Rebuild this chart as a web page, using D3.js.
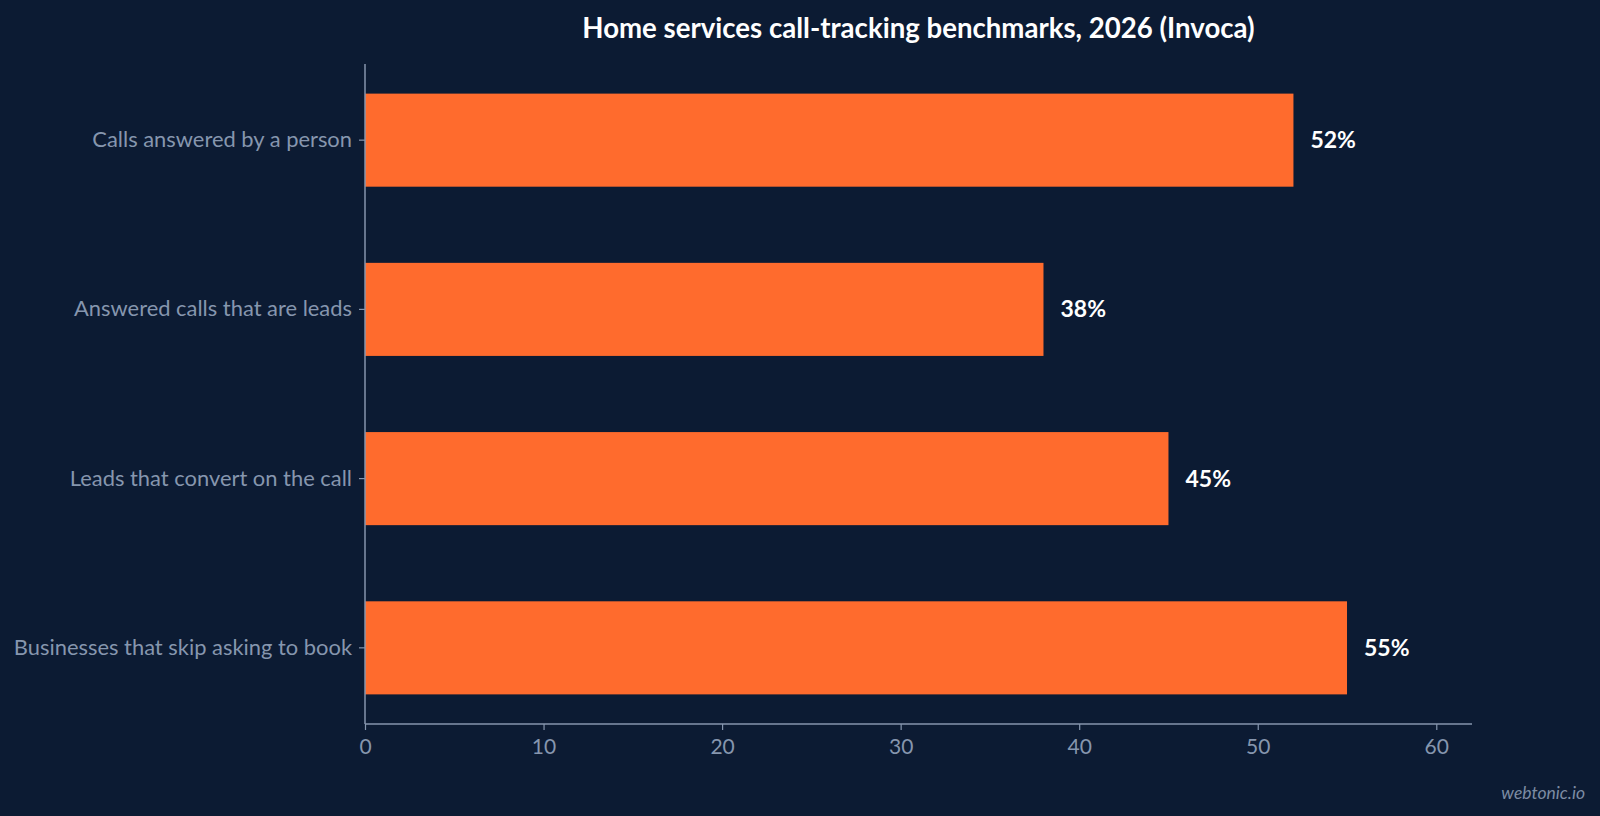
<!DOCTYPE html>
<html>
<head>
<meta charset="utf-8">
<script src="https://cdn.jsdelivr.net/npm/d3@7"></script>
<style>
  html, body { margin: 0; padding: 0; background: #0c1b33; }
  svg { display: block; font-family: Lato, "Open Sans", sans-serif; }
</style>
</head>
<body>
<div id="chart"></div>
<script>
// 数据
const categories = [
    "Calls answered by a person",
    "Answered calls that are leads",
    "Leads that convert on the call",
    "Businesses that skip asking to book"
];
const values = [52, 38, 45, 55];
const xTicks = [0, 10, 20, 30, 40, 50, 60];

// 画布
const width = 1600;
const height = 816;
const margin = { top: 64, right: 128, bottom: 92, left: 365 };

const svg = d3.select("#chart")
    .append("svg")
    .attr("width", width)
    .attr("height", height);

svg.append("rect")
    .attr("width", width)
    .attr("height", height)
    .attr("fill", "#0c1b33");

const x = d3.scaleLinear()
    .domain([0, 62])
    .range([margin.left, width - margin.right]);

const y = d3.scaleBand()
    .domain(categories)
    .range([margin.top, height - margin.bottom])
    .paddingInner(0.45)
    .paddingOuter(0.175);

const axisColor = "#8696ae";

// 柱子
svg.append("g")
    .selectAll("rect")
    .data(categories)
    .enter()
    .append("rect")
    .attr("x", x(0))
    .attr("y", d => y(d))
    .attr("width", (d, i) => x(values[i]) - x(0))
    .attr("height", y.bandwidth())
    .attr("fill", "#ff6b2d");

// 数值标签
svg.append("g")
    .selectAll("text")
    .data(categories)
    .enter()
    .append("text")
    .attr("x", (d, i) => x(values[i]) + 17)
    .attr("y", d => y(d) + y.bandwidth() / 2)
    .attr("dy", "0.35em")
    .attr("fill", "#ffffff")
    .attr("font-size", 23)
    .attr("font-weight", "bold")
    .text((d, i) => values[i] + "%");

// x 轴
const xAxis = svg.append("g")
    .attr("transform", `translate(0, ${height - margin.bottom})`)
    .call(d3.axisBottom(x).tickValues(xTicks).tickSize(6).tickPadding(9));

// y 轴
const yAxis = svg.append("g")
    .attr("transform", `translate(${margin.left}, 0)`)
    .call(d3.axisLeft(y).tickSize(6).tickPadding(7));

[xAxis, yAxis].forEach(a => {
    a.select(".domain").attr("stroke", axisColor).attr("stroke-width", 1.5);
    a.selectAll(".tick line").attr("stroke", axisColor).attr("stroke-width", 1.2);
    a.selectAll(".tick text")
        .attr("fill", axisColor)
        .attr("font-family", "Lato, sans-serif");
});
xAxis.selectAll(".tick text").attr("font-size", 21);
yAxis.selectAll(".tick text").attr("font-size", 21.9);
// 轴线不要首尾外伸刻度
xAxis.select(".domain").attr("d", `M${x(0)},0H${x(62)}`);
yAxis.select(".domain").attr("d", `M0,${margin.top}V${height - margin.bottom}`);

// 标题
svg.append("text")
    .attr("x", (x(0) + x(62)) / 2)
    .attr("y", 38)
    .attr("text-anchor", "middle")
    .attr("fill", "#ffffff")
    .attr("font-size", 27.6)
    .attr("font-weight", "bold")
    .text("Home services call-tracking benchmarks, 2026 (Invoca)");

// 水印
svg.append("text")
    .attr("x", 1585)
    .attr("y", 799)
    .attr("text-anchor", "end")
    .attr("fill", "#7d8ca3")
    .attr("font-size", 17.5)
    .attr("font-style", "italic")
    .text("webtonic.io");
</script>
</body>
</html>
